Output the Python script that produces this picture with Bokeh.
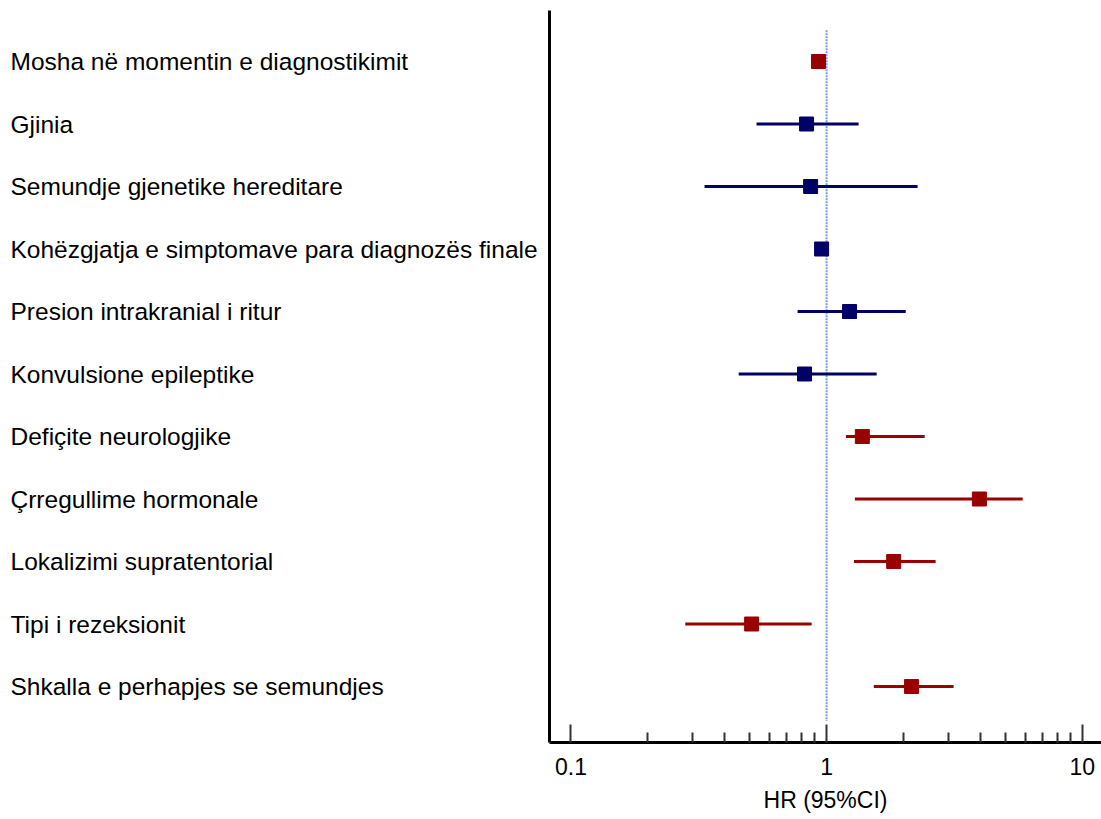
from bokeh.plotting import figure
from bokeh.layouts import row
from bokeh.models import ColumnDataSource, FixedTicker, CustomJSTickFormatter, Range1d
from bokeh.core.properties import value
from bokeh.embed import file_html
from bokeh.resources import INLINE

labels = [
    "Mosha në momentin e diagnostikimit",
    "Gjinia",
    "Semundje gjenetike hereditare",
    "Kohëzgjatja e simptomave para diagnozës finale",
    "Presion intrakranial i ritur",
    "Konvulsione epileptike",
    "Defiçite neurologjike",
    "Çrregullime hormonale",
    "Lokalizimi supratentorial",
    "Tipi i rezeksionit",
    "Shkalla e perhapjes se semundjes",
]
hr = [0.93, 0.835, 0.866, 0.956, 1.23, 0.82, 1.38, 3.96, 1.83, 0.509, 2.15]
ci_low = [0.91, 0.532, 0.333, 0.94, 0.77, 0.453, 1.19, 1.29, 1.28, 0.28, 1.53]
ci_high = [0.95, 1.334, 2.27, 0.975, 2.04, 1.57, 2.42, 5.85, 2.67, 0.874, 3.14]
significant = [True, False, False, False, False, False, True, True, True, True, True]
major_ticks = [0.1, 1, 10]
minor_ticks = [0.2, 0.3, 0.4, 0.5, 0.6, 0.7, 0.8, 0.9, 2, 3, 4, 5, 6, 7, 8, 9]
ref_value = 1

RED = "#990000"
NAVY = "#000066"

n = len(labels)
ys = list(range(n - 1, -1, -1))
colors = [RED if s else NAVY for s in significant]
x_start, x_end = 0.0824, 11.9

src = ColumnDataSource(dict(label=labels, hr=hr, lo=ci_low, hi=ci_high, y=ys,
                            color=colors, tx=[10] * n))

yr = Range1d(-0.896, n - 1 + 0.816)

# left panel: row labels
lp = figure(width=547, height=819, x_range=Range1d(0, 547), y_range=yr,
            output_backend="svg", toolbar_location=None,
            x_axis_location=None, y_axis_location=None,
            min_border_left=0, min_border_right=0, min_border_top=10, min_border_bottom=77)
lp.outline_line_color = None
lp.xgrid.visible = False
lp.ygrid.visible = False
lp.text(x="tx", y="y", text="label", source=src, text_align="left", text_baseline="middle",
        text_font=value("Liberation Sans"), text_font_size=value("24.5px"), text_color="black")

# right panel: forest plot
p = figure(width=554, height=819, x_axis_type="log",
           x_range=Range1d(x_start, x_end), y_range=yr,
           output_backend="svg", toolbar_location=None,
           min_border_left=2, min_border_right=0, min_border_top=10, min_border_bottom=77)
p.outline_line_color = None
p.xgrid.visible = False
p.ygrid.visible = False

p.segment(x0=[ref_value], x1=[ref_value], y0=[n - 1 + 0.5], y1=[-0.55],
          line_color="#6f9fd8", line_width=2, line_dash="2 1")
p.segment(x0="lo", x1="hi", y0="y", y1="y", line_color="color", line_width=3, source=src)
p.scatter(x="hr", y="y", marker="square", size=14, fill_color="color",
          line_color="color", source=src)

xa = p.xaxis[0]
xa.ticker = FixedTicker(ticks=major_ticks, minor_ticks=minor_ticks)
xa.formatter = CustomJSTickFormatter(code="return String(tick);")
xa.axis_line_width = 3
xa.axis_line_color = "black"
xa.major_tick_in = 18
xa.major_tick_out = 0
xa.minor_tick_in = 10
xa.minor_tick_out = 0
xa.major_tick_line_width = 2
xa.major_tick_line_color = "#333333"
xa.minor_tick_line_width = 2
xa.minor_tick_line_color = "#333333"
xa.major_label_text_font = "Liberation Sans"
xa.major_label_text_font_size = "23px"
xa.major_label_text_color = "black"
xa.major_label_standoff = 15
xa.axis_label = "HR (95%CI)"
xa.axis_label_text_font = "Liberation Sans"
xa.axis_label_text_font_size = "23px"
xa.axis_label_text_font_style = "normal"
xa.axis_label_text_color = "black"
xa.axis_label_standoff = 9

ya = p.yaxis[0]
ya.ticker = FixedTicker(ticks=[])
ya.axis_line_width = 3
ya.axis_line_color = "black"
ya.major_tick_line_color = None
ya.minor_tick_line_color = None

layout = row(lp, p, spacing=0)
open("out.html", "w").write(file_html(layout, INLINE))
